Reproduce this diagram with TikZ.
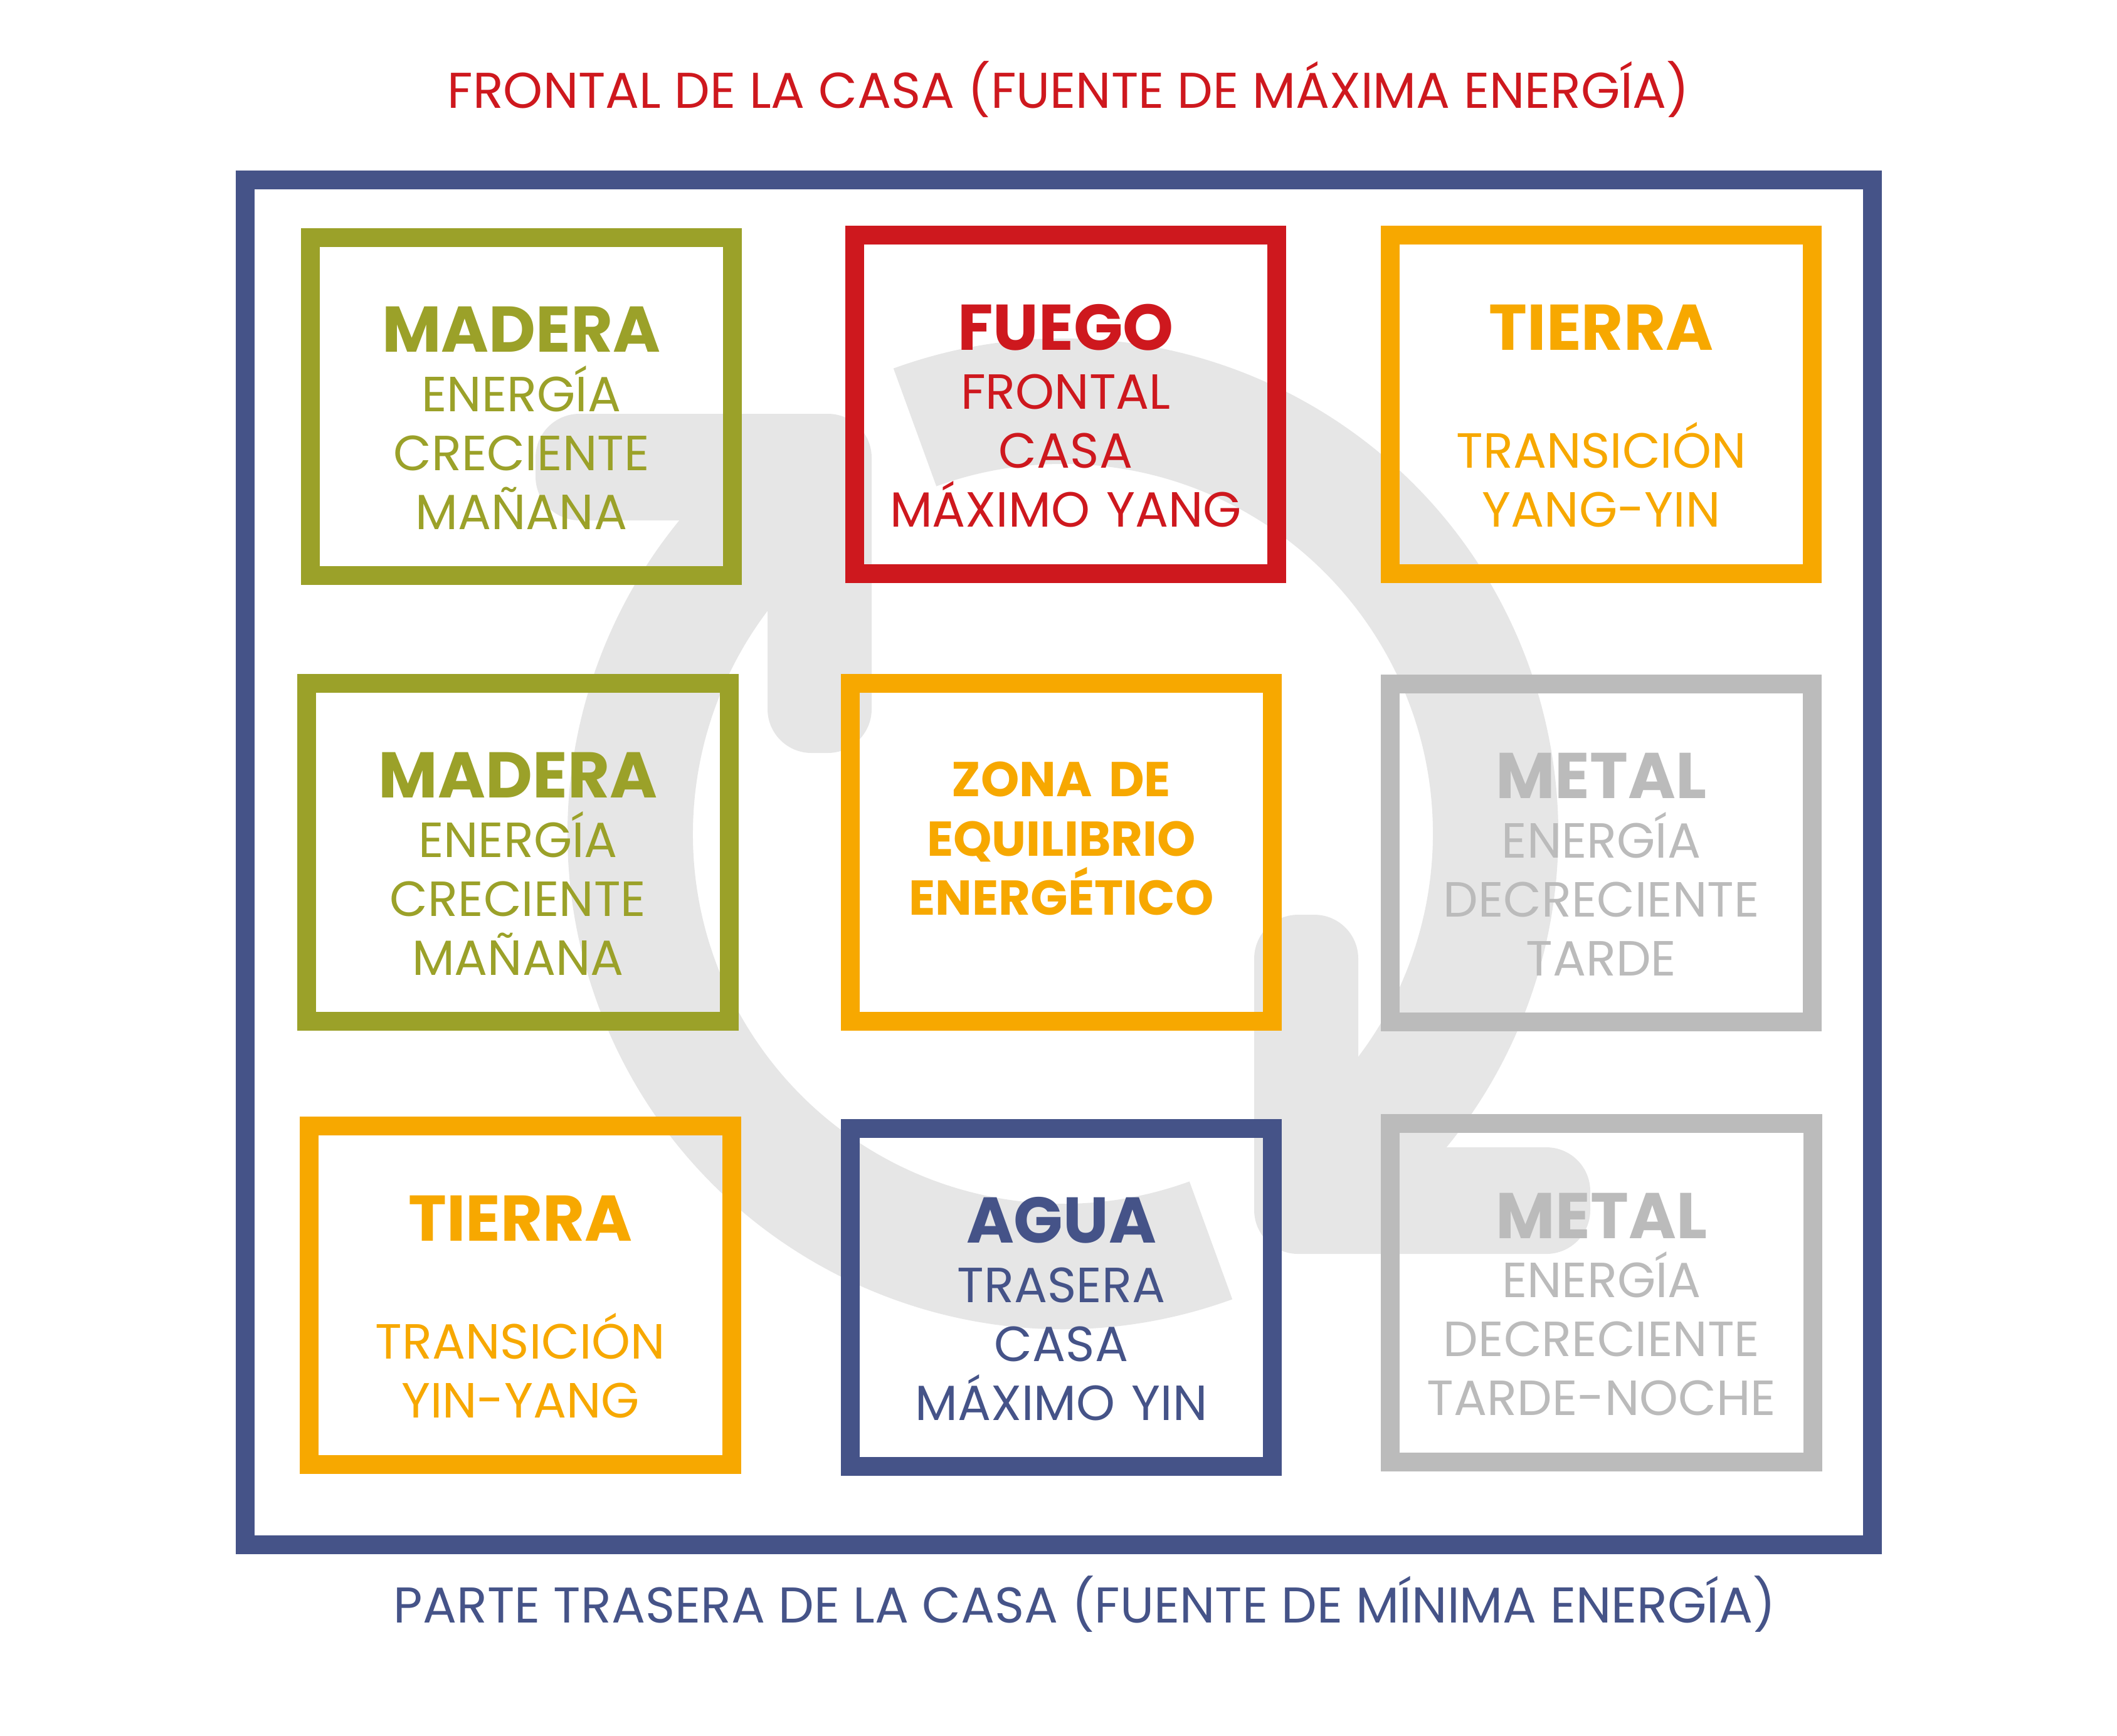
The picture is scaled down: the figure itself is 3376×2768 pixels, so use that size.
\documentclass[tikz,border=0pt]{standalone}
\usepackage{fontspec}
\setmainfont{Poppins}
\usepackage{xcolor}
\usepackage{tikz}
\usetikzlibrary{positioning}

\definecolor{madera}{RGB}{155,161,41}
\definecolor{fuego}{RGB}{206,24,30}
\definecolor{tierra}{RGB}{247,168,0}
\definecolor{agua}{RGB}{69,83,136}
\definecolor{metal}{RGB}{187,187,187}
\definecolor{marca}{RGB}{230,230,230}

\newcommand{\cuerpo}{\fontsize{22.4}{26.75}\selectfont}
\newcommand{\titular}{\fontsize{29.3}{26.75}\selectfont\bfseries}
\newcommand{\zonafont}{\fontsize{22.2}{26.75}\selectfont\bfseries}

\begin{document}
\begin{tikzpicture}[x=0.01cm, y=-0.01cm,
    casilla/.style={draw, line width=0.3cm, minimum width=6.73cm, minimum height=5.39cm, inner sep=0, outer sep=0},
    texto/.style={text width=6.4cm, align=center, inner sep=0, anchor=base, font=\cuerpo},
    titulo/.style={inner sep=0, anchor=base, font=\fontsize{22.8}{26}\selectfont}]

\useasboundingbox (0,0) rectangle (3376,2768);

% logo de fondo
\begin{scope}[shift={(1695,1330)}, x=0.01cm, y=0.01cm]
  \foreach \r in {0,180} {
    \fill[marca, rotate=\r] (110:790) arc[start angle=110, end angle=-55, radius=790]
        -- (-55:590) arc[start angle=-55, end angle=110, radius=590] -- cycle;
    \fill[marca, rotate=\r, rounded corners=0.7cm] (-841,670) -- (-305,670) -- (-305,129)
        -- (-471,129) -- (-471,500) -- (-841,500) -- cycle;
  }
\end{scope}

\node[draw=agua, line width=0.3cm, minimum width=25.93cm, minimum height=21.75cm, inner sep=0, outer sep=0] (casa) at (1688.5,1375.5) {};

\node[titulo, text=fuego] (frontal) at (1704,172) {FRONTAL DE LA CASA (FUENTE DE MÁXIMA ENERGÍA)};
\node[titulo, text=agua] (trasera) at (1730,2588) {PARTE TRASERA DE LA CASA (FUENTE DE MÍNIMA ENERGÍA)};

% fila superior
\node[casilla, draw=madera] (madera1) at (831.5,648.5) {};
\node[texto, text=madera] (madera1-t) at ([yshift=-1.83cm]madera1.north) {{\titular MADERA}\\ ENERGÍA\\ CRECIENTE\\ MAÑANA};

\node[casilla, draw=fuego] (fuego) at (1699.5,645) {};
\node[texto, text=fuego] (fuego-t) at ([yshift=-1.83cm]fuego.north) {{\titular FUEGO}\\ FRONTAL\\ CASA\\ MÁXIMO YANG};

\node[casilla, draw=tierra] (tierra1) at (2553.5,645) {};
\node[texto, text=tierra] (tierra1-t) at ([yshift=-1.83cm]tierra1.north) {{\titular TIERRA}\\ \mbox{}\\ TRANSICIÓN\\ YANG-YIN};

% fila central
\node[casilla, draw=madera] (madera2) at (826,1359.5) {};
\node[texto, text=madera] (madera2-t) at ([yshift=-1.83cm]madera2.north) {{\titular MADERA}\\ ENERGÍA\\ CRECIENTE\\ MAÑANA};

\node[casilla, draw=tierra] (zona) at (1692.5,1359.5) {};
\node[texto, text=tierra, font=\zonafont] (zona-t) at ([yshift=-1.81cm]zona.north) {ZONA DE\\ EQUILIBRIO\\ ENERGÉTICO};

\node[casilla, draw=metal] (metal1) at (2553.5,1360.5) {};
\node[texto, text=metal] (metal1-t) at ([yshift=-1.83cm]metal1.north) {{\titular METAL}\\ ENERGÍA\\ DECRECIENTE\\ TARDE};

% fila inferior
\node[casilla, draw=tierra] (tierra2) at (830,2066) {};
\node[texto, text=tierra] (tierra2-t) at ([yshift=-1.83cm]tierra2.north) {{\titular TIERRA}\\ \mbox{}\\ TRANSICIÓN\\ YIN-YANG};

\node[casilla, draw=agua] (agua) at (1692.5,2069.5) {};
\node[texto, text=agua] (agua-t) at ([yshift=-1.83cm]agua.north) {{\titular AGUA}\\ TRASERA\\ CASA\\ MÁXIMO YIN};

\node[casilla, draw=metal] (metal2) at (2554,2062) {};
\node[texto, text=metal] (metal2-t) at ([yshift=-1.83cm]metal2.north) {{\titular METAL}\\ ENERGÍA\\ DECRECIENTE\\ TARDE-NOCHE};

\end{tikzpicture}
\end{document}
